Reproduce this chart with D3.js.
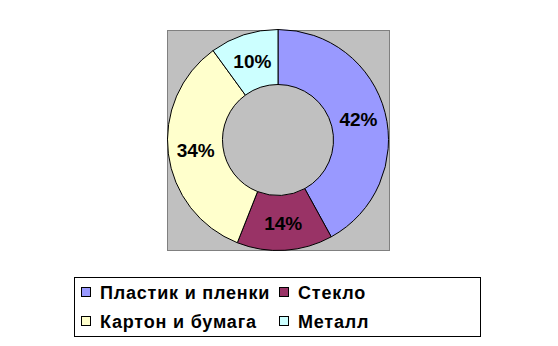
<!DOCTYPE html>
<html>
<head>
<meta charset="utf-8">
<script src="https://cdn.jsdelivr.net/npm/d3@7"></script>
<style>
  body { margin: 0; background: #fff; }
  text { font-family: "Liberation Sans", Arial, sans-serif; font-weight: bold; }
</style>
</head>
<body>
<svg id="chart" width="558" height="346"></svg>
<script>
// data
const categories = ["Пластик и пленки", "Стекло", "Картон и бумага", "Металл"];
const values = [42, 14, 34, 10];
const colors = ["#9999FF", "#993366", "#FFFFCC", "#CCFFFF"];

const svg = d3.select("#chart");

// plot area
const plot = {x: 167, y: 30, w: 222, h: 220};
svg.append("rect")
    .attr("x", plot.x + 0.5).attr("y", plot.y + 0.5)
    .attr("width", plot.w).attr("height", plot.h)
    .attr("fill", "#C0C0C0")
    .attr("stroke", "#808080");

const cx = 278, cy = 140;
const outerR = 110.5, innerR = 55.5;

const pie = d3.pie().sort(null).value(d => d);
const arc = d3.arc().innerRadius(innerR).outerRadius(outerR);
const labelArc = d3.arc().innerRadius((innerR + outerR) / 2).outerRadius((innerR + outerR) / 2);

const g = svg.append("g").attr("transform", `translate(${cx},${cy})`);
const slices = pie(values);

g.selectAll("path").data(slices)
    .enter().append("path")
    .attr("d", arc)
    .attr("fill", (d, i) => colors[i])
    .attr("stroke", "#000")
    .attr("stroke-width", 1);

g.selectAll("text").data(slices)
    .enter().append("text")
    .attr("transform", d => `translate(${labelArc.centroid(d)})`)
    .attr("text-anchor", "middle")
    .attr("dy", "0.36em")
    .attr("font-size", 19)
    .attr("fill", "#000")
    .text(d => d.value + "%");

// legend
const legend = svg.append("g");
legend.append("rect")
    .attr("x", 74.5).attr("y", 277.5)
    .attr("width", 406).attr("height", 59)
    .attr("fill", "#fff")
    .attr("stroke", "#000");

const colX = [81, 279];
const rowY = [287, 316];
categories.forEach((c, i) => {
    const x = colX[i % 2], y = rowY[Math.floor(i / 2)];
    legend.append("rect")
        .attr("x", x + 0.5).attr("y", y + 0.5)
        .attr("width", 9).attr("height", 9)
        .attr("fill", colors[i])
        .attr("stroke", "#000");
    legend.append("text")
        .attr("x", x + 19).attr("y", y + 12)
        .attr("font-size", 18)
        .attr("letter-spacing", 0.8)
        .attr("fill", "#000")
        .text(c);
});
</script>
</body>
</html>
